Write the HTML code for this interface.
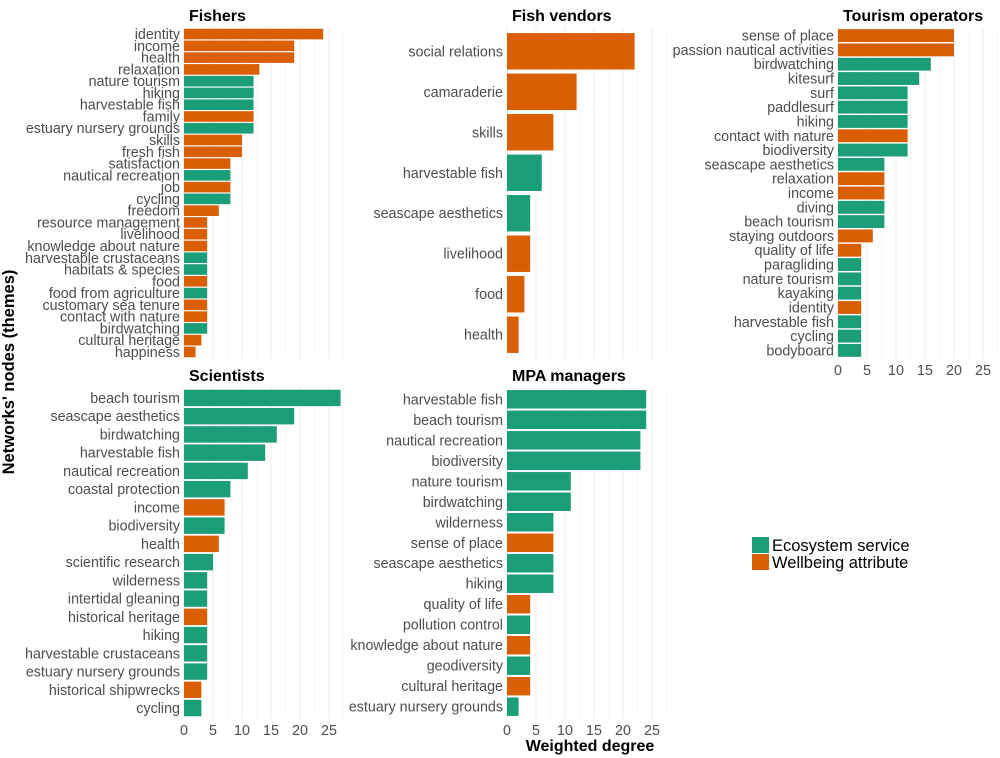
<!DOCTYPE html>
<html><head><meta charset="utf-8">
<style>
html,body{margin:0;padding:0;background:#fff;}
svg{display:block;font-family:"Liberation Sans",Arial,sans-serif;}
</style></head>
<body>
<svg id="chart" width="1000" height="758" viewBox="0 0 1000 758">
<text x="14" y="372" transform="rotate(-90 14 372)" text-anchor="middle" font-size="16.5" font-weight="bold" fill="#000">Networks' nodes (themes)</text>
<text x="590" y="751" text-anchor="middle" font-size="16" font-weight="bold" fill="#000">Weighted degree</text>
<g>
<rect x="752" y="537" width="17" height="16" fill="#1b9e77"/>
<text x="772" y="551" font-size="16.5" fill="#000">Ecosystem service</text>
<rect x="752" y="554" width="17" height="16" fill="#d95f02"/>
<text x="772" y="568" font-size="16.5" fill="#000">Wellbeing attribute</text>
</g>
</svg>
<script>
const fishersCats = ["identity","income","health","relaxation","nature tourism","hiking","harvestable fish","family","estuary nursery grounds","skills","fresh fish","satisfaction","nautical recreation","job","cycling","freedom","resource management","livelihood","knowledge about nature","harvestable crustaceans","habitats & species","food","food from agriculture","customary sea tenure","contact with nature","birdwatching","cultural heritage","happiness"];
const fishersVals = [24,19,19,13,12,12,12,12,12,10,10,8,8,8,8,6,4,4,4,4,4,4,4,4,4,4,3,2];
const fishersType = ["w","w","w","w","e","e","e","w","e","w","w","w","e","w","e","w","w","w","w","e","e","w","e","w","w","e","w","w"];

const vendorsCats = ["social relations","camaraderie","skills","harvestable fish","seascape aesthetics","livelihood","food","health"];
const vendorsVals = [22,12,8,6,4,4,3,2];
const vendorsType = ["w","w","w","e","e","w","w","w"];

const tourismCats = ["sense of place","passion nautical activities","birdwatching","kitesurf","surf","paddlesurf","hiking","contact with nature","biodiversity","seascape aesthetics","relaxation","income","diving","beach tourism","staying outdoors","quality of life","paragliding","nature tourism","kayaking","identity","harvestable fish","cycling","bodyboard"];
const tourismVals = [20,20,16,14,12,12,12,12,12,8,8,8,8,8,6,4,4,4,4,4,4,4,4];
const tourismType = ["w","w","e","e","e","e","e","w","e","e","w","w","e","e","w","w","e","e","e","w","e","e","e"];

const scientistsCats = ["beach tourism","seascape aesthetics","birdwatching","harvestable fish","nautical recreation","coastal protection","income","biodiversity","health","scientific research","wilderness","intertidal gleaning","historical heritage","hiking","harvestable crustaceans","estuary nursery grounds","historical shipwrecks","cycling"];
const scientistsVals = [27,19,16,14,11,8,7,7,6,5,4,4,4,4,4,4,3,3];
const scientistsType = ["e","e","e","e","e","e","w","e","w","e","e","e","w","e","e","e","w","e"];

const mpaCats = ["harvestable fish","beach tourism","nautical recreation","biodiversity","nature tourism","birdwatching","wilderness","sense of place","seascape aesthetics","hiking","quality of life","pollution control","knowledge about nature","geodiversity","cultural heritage","estuary nursery grounds"];
const mpaVals = [24,24,23,23,11,11,8,8,8,8,4,4,4,4,4,2];
const mpaType = ["e","e","e","e","e","e","e","w","e","e","w","e","w","e","w","e"];

const xTicks = [0,5,10,15,20,25];

const NS = "http://www.w3.org/2000/svg";
const svg = document.getElementById("chart");
const COL = {e:"#1b9e77", w:"#d95f02"};
const PXU = 5.8, XMAX = 28.3;

function mk(tag, attrs){const el=document.createElementNS(NS,tag);for(const k in attrs)el.setAttribute(k,attrs[k]);return el;}

function panel(slug, title, cats, vals, types, x0, y0, h, showTicks){
  const g = mk("g",{});
  
  
  svg.appendChild(g);
  const xs = v => x0 + v*PXU;
  for(let v=0; v<=XMAX; v+=2.5){
    const ln = mk("line",{x1:xs(v),x2:xs(v),y1:y0,y2:y0+h,stroke:(v%5===0)?"#ebebeb":"#f3f3f3","stroke-width":(v%5===0)?1:0.6});
    
    
    g.appendChild(ln);
  }
  const n = cats.length;
  const unit = h/(n+0.2);
  const ys = i => y0 + (0.6 + i)*unit;
  cats.forEach((c,i)=>{
    const cy = ys(i);
    const r = mk("rect",{x:x0,y:cy-0.45*unit,width:vals[i]*PXU,height:0.9*unit,fill:COL[types[i]]});
    
    
    g.appendChild(r);
    const t = mk("text",{x:x0-4,y:cy+5,"text-anchor":"end","font-size":14.3,fill:"#4d4d4d"});
    t.textContent = c;
    
    
    g.appendChild(t);
  });
  const tt = mk("text",{x:x0+5,y:y0-6,"font-size":16,"font-weight":"bold",fill:"#000"});
  tt.textContent = title;
  
  
  g.appendChild(tt);
  if(showTicks){
    xTicks.forEach(v=>{
      const t = mk("text",{x:xs(v),y:y0+h+16,"text-anchor":"middle","font-size":14.3,fill:"#4d4d4d"});
      t.textContent = v;
      
      
      g.appendChild(t);
    });
  }
}
panel("fishers","Fishers",fishersCats,fishersVals,fishersType,184,27,332,false);
panel("fish-vendors","Fish vendors",vendorsCats,vendorsVals,vendorsType,507,27,332,false);
panel("tourism-operators","Tourism operators",tourismCats,tourismVals,tourismType,838,27,332,true);
panel("scientists","Scientists",scientistsCats,scientistsVals,scientistsType,184,387,332,true);
panel("mpa-managers","MPA managers",mpaCats,mpaVals,mpaType,507,387,332,true);
</script>
</body></html>
